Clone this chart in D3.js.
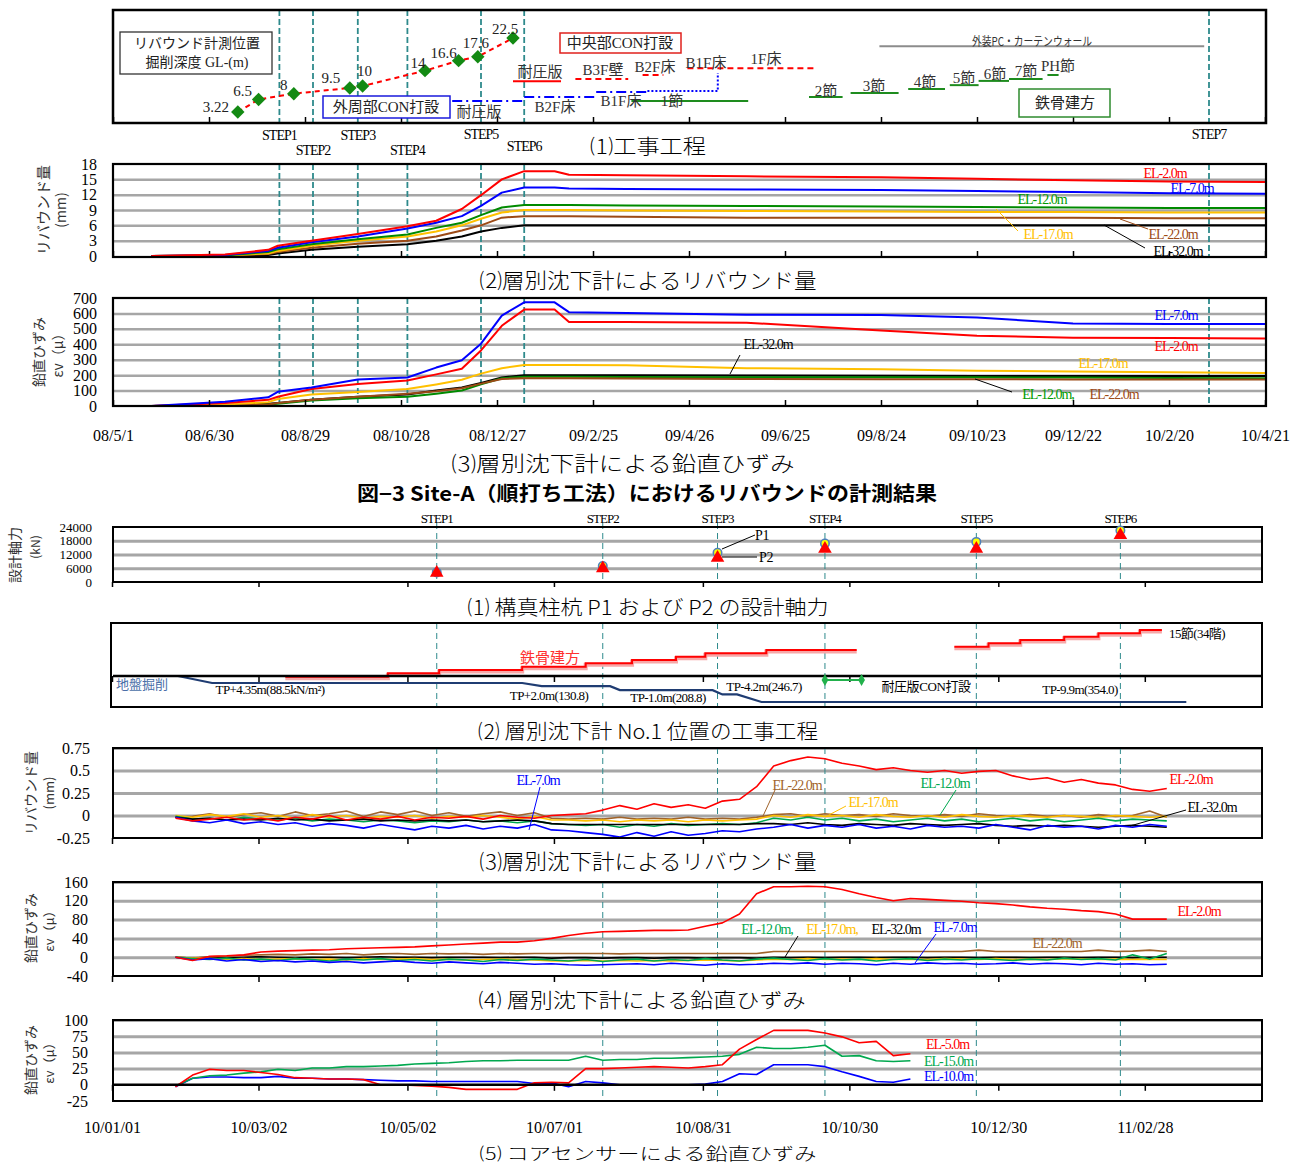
<!DOCTYPE html>
<html lang="ja">
<head>
<meta charset="UTF-8">
<title>図-3 リバウンドの計測結果</title>
<script src="https://cdn.jsdelivr.net/npm/d3@7"></script>
<style>
  body { margin: 0; background: #fff; }
</style>
</head>
<body>
<svg id="fig" width="1299" height="1167"></svg>
<script>
const SERIF = "'Liberation Serif','Noto Sans CJK JP',serif";
const GOTH = "'Noto Sans CJK JP',sans-serif";
const pd = d3.timeParse("%Y-%m-%d");

// ---------------- Site-A (upper figure) ----------------
const topTickDates = ["2008-05-01","2008-06-30","2008-08-29","2008-10-28","2008-12-27","2009-02-25","2009-04-26","2009-06-25","2009-08-24","2009-10-23","2009-12-22","2010-02-20","2010-04-21"];
const topTickLabels = ["08/5/1","08/6/30","08/8/29","08/10/28","08/12/27","09/2/25","09/4/26","09/6/25","09/8/24","09/10/23","09/12/22","10/2/20","10/4/21"];
const topSteps = ["2008-08-13","2008-09-03","2008-10-01","2008-11-01","2008-12-17","2009-01-13","2010-03-17"];
const stepNames = ["STEP1","STEP2","STEP3","STEP4","STEP5","STEP6","STEP7"];

// excavation depth at rebound measuring position, GL-(m)
const depthDates = ["2008-07-18","2008-07-31","2008-08-22","2008-09-26","2008-10-04","2008-11-12","2008-12-03","2008-12-15","2009-01-06"];
const depths = [3.22, 6.5, 8, 9.5, 10, 14, 16.6, 17.6, 22.5];

// construction schedule (row = lane in the schedule box)
const cenNames = ["耐圧版","B3F壁","B2F床","1F床"];
const cenStart = ["2009-01-06","2009-02-14","2009-03-28","2009-04-25"];
const cenEnd   = ["2009-02-05","2009-03-19","2009-04-10","2009-07-15"];
const cenRow   = [7.4, 7.8, 8.5, 9.7];
const perNames = ["耐圧版","B2F床","B1F床","1F床"];
const perStart = ["2008-11-29","2009-01-13","2009-02-27","2009-03-31"];
const perEnd   = ["2009-01-13","2009-02-26","2009-03-31","2009-05-14"];
const perRow   = [3.9, 4.6, 5.5, 5.65];
const stNames = ["1節","2節","3節","4節","5節","6節","7節","PH節"];
const stStart = ["2009-03-21","2009-07-10","2009-08-05","2009-09-10","2009-10-06","2009-10-24","2009-11-12","2009-12-06"];
const stEnd   = ["2009-06-02","2009-07-31","2009-09-04","2009-10-03","2009-10-24","2009-11-12","2009-12-03","2009-12-13"];
const stRow   = [3.9, 4.6, 5.3, 6.0, 6.7, 7.45, 7.8, 8.5];
const pcSpan = ["2009-08-23","2010-03-14"];
const pcRow = 13.6;

const topDates = ["2008-05-25","2008-07-10","2008-08-06","2008-08-12","2008-09-02","2008-10-01","2008-11-01","2008-11-19","2008-12-05","2008-12-17","2008-12-30","2009-01-13","2009-02-01","2009-02-10","2009-03-18","2009-06-01","2009-08-24","2009-10-23","2009-12-22","2010-02-20","2010-04-21"];
const topNames = ["EL-2.0m","EL-7.0m","EL-12.0m","EL-17.0m","EL-22.0m","EL-32.0m"];
// rebound (mm)
const rbA2  = [0, 0.3, 1.2, 2.0, 3.0, 4.3, 5.8, 6.9, 9.2, 11.9, 15.0, 16.6, 16.6, 15.9, 15.8, 15.6, 15.4, 15.1, 14.8, 14.6, 14.5];
const rbA7  = [0, 0.2, 1.0, 1.6, 2.7, 3.8, 5.4, 6.5, 7.8, 9.8, 12.4, 13.4, 13.4, 13.2, 13.1, 13.0, 12.9, 12.7, 12.5, 12.3, 12.2];
const rbA12 = [0, 0.1, 0.8, 1.3, 2.3, 3.3, 4.2, 5.5, 6.5, 8.0, 9.5, 10.0, 10.0, 10.0, 9.9, 9.8, 9.7, 9.6, 9.5, 9.4, 9.4];
const rbA17 = [0, 0.1, 0.5, 1.0, 2.0, 3.0, 3.8, 4.8, 6.0, 7.3, 8.5, 9.0, 9.0, 9.0, 8.9, 8.8, 8.7, 8.6, 8.6, 8.5, 8.5];
const rbA22 = [0, 0.1, 0.4, 0.8, 1.6, 2.4, 3.0, 3.8, 5.0, 6.0, 7.5, 7.8, 7.8, 7.8, 7.7, 7.5, 7.5, 7.5, 7.5, 7.4, 7.4];
const rbA32 = [0, 0.0, 0.2, 0.5, 1.2, 1.8, 2.3, 3.0, 3.8, 4.8, 5.5, 6.0, 6.0, 6.0, 6.0, 6.0, 6.0, 6.0, 6.0, 6.0, 6.0];
// vertical strain (micro)
const evA2  = [0, 20, 40, 60, 110, 142, 165, 205, 242, 360, 520, 625, 625, 545, 545, 540, 490, 455, 443, 440, 438];
const evA7  = [0, 28, 56, 92, 120, 172, 185, 249, 296, 404, 586, 672, 672, 608, 603, 592, 590, 574, 535, 532, 532];
const evA12 = [0, 3, 10, 15, 35, 50, 60, 80, 100, 140, 180, 190, 190, 190, 188, 187, 187, 186, 184, 182, 180];
const evA17 = [0, 10, 25, 45, 75, 90, 110, 140, 170, 210, 245, 265, 265, 265, 264, 245, 238, 228, 224, 218, 214];
const evA22 = [0, 3, 10, 20, 40, 60, 80, 95, 115, 145, 175, 180, 180, 180, 178, 175, 174, 173, 172, 172, 172];
const evA32 = [0, 5, 15, 20, 40, 60, 75, 100, 120, 150, 185, 200, 200, 200, 200, 198, 196, 195, 195, 195, 195];

// ---------------- Site-B (lower figure) ----------------
const lowTickDates = ["2010-01-01","2010-03-02","2010-05-02","2010-07-01","2010-08-31","2010-10-30","2010-12-30","2011-02-28"];
const lowTickLabels = ["10/01/01","10/03/02","10/05/02","10/07/01","10/08/31","10/10/30","10/12/30","11/02/28"];
const lowSteps = ["2010-05-14","2010-07-21","2010-09-06","2010-10-20","2010-12-21","2011-02-18"];
const p1Force = [4200, 7000, 12800, 16800, 17500, 22500];
const p2Force = [4000, 6000, 10500, 14500, 14500, 20500];

// steel erection nodes 1..15
const nodeStart = ["2010-03-13","2010-04-24","2010-05-15","2010-06-18","2010-07-14","2010-08-02","2010-08-20","2010-09-01","2010-09-26","2010-12-12","2010-12-26","2011-01-08","2011-01-26","2011-02-09","2011-02-26"];
const nodeEnd   = ["2010-04-24","2010-05-15","2010-06-18","2010-07-14","2010-08-02","2010-08-20","2010-09-01","2010-09-26","2010-11-02","2010-12-26","2011-01-08","2011-01-26","2011-02-09","2011-02-26","2011-03-07"];
// excavation level (TP m)
const excDates = ["2010-01-28","2010-02-11","2010-06-18","2010-06-26","2010-07-24","2010-07-28","2010-09-04","2010-09-08","2010-09-14","2010-09-24","2011-03-17"];
const excTP    = [9.6, 4.35, 4.35, 2.0, 2.0, -1.0, -1.0, -4.2, -4.2, -9.9, -9.9];
const matSpan = ["2010-10-20","2010-11-04"];
const matTP = 6.6;

const wk = ["2010-01-27","2010-02-03","2010-02-10","2010-02-17","2010-02-24","2010-03-03","2010-03-10","2010-03-17","2010-03-24","2010-03-31",
  "2010-04-07","2010-04-14","2010-04-21","2010-04-28","2010-05-05","2010-05-12","2010-05-19","2010-05-26","2010-06-02","2010-06-09",
  "2010-06-16","2010-06-23","2010-06-30","2010-07-07","2010-07-14","2010-07-21","2010-07-28","2010-08-04","2010-08-11","2010-08-18",
  "2010-08-25","2010-09-01","2010-09-08","2010-09-15","2010-09-22","2010-09-29","2010-10-06","2010-10-13","2010-10-20","2010-10-27",
  "2010-11-03","2010-11-10","2010-11-17","2010-11-24","2010-12-01","2010-12-08","2010-12-15","2010-12-22","2010-12-29","2011-01-05",
  "2011-01-12","2011-01-19","2011-01-26","2011-02-02","2011-02-09","2011-02-16","2011-02-23","2011-03-02","2011-03-09"];

// rebound (mm)
const rbB2 = [-0.03,-0.06,-0.04,-0.02,-0.05,-0.03,-0.06,-0.02,-0.04,0.00,
  -0.05,-0.02,-0.04,-0.01,-0.05,-0.02,-0.03,-0.01,-0.04,0.00,
  -0.02,-0.03,0.00,0.01,0.02,0.06,0.11,0.07,0.13,0.09,
  0.12,0.08,0.16,0.18,0.32,0.55,0.61,0.65,0.63,0.58,
  0.55,0.51,0.53,0.50,0.48,0.50,0.47,0.49,0.50,0.44,
  0.40,0.42,0.37,0.40,0.36,0.34,0.29,0.27,0.30];
const rbB7 = [-0.02,-0.06,-0.08,-0.05,-0.09,-0.07,-0.10,-0.08,-0.12,-0.09,
  -0.11,-0.14,-0.10,-0.13,-0.16,-0.12,-0.14,-0.11,-0.15,-0.12,
  -0.14,-0.10,-0.16,-0.17,-0.19,-0.21,-0.24,-0.19,-0.23,-0.18,
  -0.22,-0.20,-0.17,-0.18,-0.15,-0.13,-0.10,-0.14,-0.11,-0.13,
  -0.10,-0.14,-0.12,-0.15,-0.11,-0.13,-0.12,-0.14,-0.10,-0.13,
  -0.16,-0.11,-0.13,-0.12,-0.15,-0.11,-0.13,-0.10,-0.12];
const rbB12 = [-0.01,-0.04,-0.03,-0.05,-0.02,-0.04,-0.05,-0.03,-0.06,-0.04,
  -0.05,-0.07,-0.05,-0.06,-0.08,-0.06,-0.07,-0.05,-0.07,-0.06,
  -0.08,-0.06,-0.09,-0.10,-0.11,-0.10,-0.13,-0.10,-0.12,-0.09,
  -0.11,-0.10,-0.09,-0.10,-0.08,-0.03,-0.05,-0.02,-0.05,-0.03,
  -0.06,-0.04,-0.07,-0.05,-0.03,-0.06,-0.04,-0.07,-0.05,-0.03,
  -0.06,-0.04,-0.07,-0.05,-0.03,-0.06,-0.04,-0.05,-0.06];
const rbB17 = [0.00,-0.02,0.01,-0.01,0.02,-0.02,0.00,-0.03,0.01,-0.02,
  0.00,-0.03,-0.01,-0.02,0.00,-0.03,-0.01,-0.02,0.00,-0.02,
  -0.04,-0.01,-0.05,-0.05,-0.06,-0.05,-0.07,-0.05,-0.06,-0.05,
  -0.07,-0.05,-0.06,-0.05,-0.04,0.00,-0.02,0.01,-0.01,0.00,
  -0.02,0.01,-0.01,-0.02,0.00,-0.02,0.01,-0.01,-0.02,0.00,
  -0.01,-0.02,0.00,-0.01,-0.02,0.00,-0.01,-0.02,-0.01];
const rbB22 = [-0.02,-0.01,0.02,-0.02,0.01,0.03,-0.01,0.04,0.00,0.02,
  0.05,-0.01,0.04,0.01,0.05,0.00,0.03,-0.01,0.02,0.04,
  0.00,0.03,-0.03,-0.04,-0.03,-0.04,-0.02,-0.04,-0.03,-0.04,
  -0.02,-0.04,-0.03,-0.04,-0.02,0.01,0.02,-0.01,0.02,0.00,
  0.01,-0.01,0.02,0.00,-0.01,0.01,-0.01,0.02,0.00,-0.01,
  0.01,-0.01,0.00,-0.02,0.01,-0.01,0.00,0.05,-0.02];
const rbB32 = [-0.02,-0.04,-0.03,-0.05,-0.04,-0.05,-0.03,-0.05,-0.04,-0.06,
  -0.05,-0.04,-0.06,-0.05,-0.06,-0.05,-0.06,-0.05,-0.07,-0.06,
  -0.05,-0.06,-0.09,-0.10,-0.10,-0.10,-0.10,-0.10,-0.10,-0.10,
  -0.10,-0.10,-0.10,-0.10,-0.09,-0.09,-0.10,-0.08,-0.10,-0.11,
  -0.09,-0.10,-0.11,-0.09,-0.10,-0.11,-0.10,-0.09,-0.11,-0.12,
  -0.11,-0.12,-0.11,-0.12,-0.13,-0.12,-0.11,-0.12,-0.13];

// vertical strain by settlement gauge (micro)
const evB2 = [0,-7,2,3,5,11,13,14,15,16, 18,19,20,21,22,24,26,28,30,32,
  32,35,40,46,51,54,55,56,57,57, 58,66,73,92,135,150,150,151,150,144,
  135,127,120,125,123,121,119,116,114,111, 107,104,102,99,97,92,81,81,81];
const evB7 = [0,-6,-3,-8,-5,-9,-7,-10,-8,-11, -9,-12,-10,-8,-11,-13,-10,-12,-14,-11,
  -13,-15,-14,-16,-17,-16,-15,-14,-16,-13, -15,-17,-14,-16,-15,-13,-14,-12,-15,-13,
  -14,-16,-13,-15,-12,-14,-13,-15,-14,-12, -15,-13,-14,-16,-13,-15,-14,-16,-15];
const evB12 = [0,-3,-5,-2,-6,-4,-7,-3,-5,-8, -4,-6,-3,-7,-5,-8,-4,-6,-9,-5,
  -7,-4,-6,-8,-5,-9,-6,-4,-8,-5, -7,-3,-6,-8,-4,-2,-5,-7,-3,-6,
  -4,-8,-5,-3,-7,-4,-6,-3,-5,-7, -4,-6,-2,-5,-3,-6,5,-4,8];
const evB17 = [0,-2,-3,-4,-3,-5,-4,-3,-5,-4, -6,-3,-5,-4,-3,-5,-4,-6,-5,-4,
  -5,-6,-8,-8,-7,-8,-7,-8,-7,-8, -7,-6,-7,-8,-6,-4,-5,-3,-5,-4,
  -5,-3,-5,-4,-5,-3,-4,-5,-3,-5, -4,-5,-3,-4,-5,-4,-5,-4,-5];
const evB22 = [0,-2,1,2,4,5,6,5,7,6, 8,5,7,8,6,8,7,8,6,8,
  7,8,8,8,8,8,7,8,8,8, 8,8,8,8,8,12,12,12,12,12,
  12,12,12,12,12,12,12,15,12,12, 12,12,12,12,15,12,13,15,12];
const evB32 = [0,-2,0,-1,0,1,0,-1,0,0, -1,0,1,0,0,-1,0,0,0,-1,
  0,0,-2,-1,-1,-2,-1,-1,-2,-1, -1,-2,-1,-1,-2,0,-1,0,-1,0,
  0,-1,0,0,-1,0,0,-1,0,0, -1,0,0,-1,0,0,-1,0,0];

// core sensor vertical strain (micro), weeks 0..43
const csNames = ["EL-5.0m","EL-15.0m","EL-10.0m"];
const cs5  = [-3,15,24,22,22,19,16,11,10,9, 9,8,0,0,-1,-2,-4,-7,-7,-7,
  -7,3,4,3,25,25,26,27,28,27, 26,28,31,55,70,84,84,84,80,74, 65,67,45,48];
const cs15 = [-2,10,14,15,18,20,24,22,26,26, 28,28,29,30,32,33,34,36,37,37,
  38,38,38,38,44,38,39,39,41,41, 42,43,44,47,58,56,56,58,61,44, 45,37,36,37];
const cs10 = [-3,10,12,12,11,11,13,10,10,9, 9,8,7,6,6,5,5,5,5,5,
  5,2,3,-3,5,3,0,0,0,0, 0,1,5,17,16,31,31,31,28,20, 13,5,4,9];

// ---------------- drawing helpers ----------------
const svg = d3.select("#fig");
svg.append("rect").attr("width", 1299).attr("height", 1167).attr("fill", "#fff");

function T(x, y, s, o = {}) {
  const t = svg.append("text")
    .attr("x", x).attr("y", y)
    .attr("text-anchor", o.a || "middle")
    .attr("dominant-baseline", "central")
    .style("font-family", o.f || SERIF)
    .style("font-size", (o.s || 14) + "px")
    .style("font-weight", o.w || 400)
    .style("letter-spacing", (o.ls || 0) + "px")
    .attr("fill", o.c || "#000")
    .text(s);
  if (o.len) t.attr("textLength", o.len).attr("lengthAdjust", "spacingAndGlyphs");
  if (o.rot) t.attr("transform", `rotate(${o.rot},${x},${y})`);
  return t;
}
function seg(x1, y1, x2, y2, c, w, dash) {
  const l = svg.append("line").attr("x1", x1).attr("y1", y1).attr("x2", x2).attr("y2", y2)
    .attr("stroke", c).attr("stroke-width", w || 1);
  if (dash) l.attr("stroke-dasharray", dash);
  return l;
}
function frame(x0, y0, x1, y1, w) {
  svg.append("rect").attr("x", x0).attr("y", y0).attr("width", x1 - x0).attr("height", y1 - y0)
    .attr("fill", "none").attr("stroke", "#000").attr("stroke-width", w || 2);
}
function grid(y, vals, x0, x1, w) {
  const g = svg.append("g").attr("transform", `translate(${x0},0)`)
    .call(d3.axisLeft(y).tickValues(vals).tickSize(-(x1 - x0)).tickFormat(""));
  g.select(".domain").remove();
  g.selectAll("line").attr("stroke", "#a6a6a6").attr("stroke-width", w || 2.5);
}
function yAxis(y, vals, xr, fmt, size) {
  const g = svg.append("g").attr("transform", `translate(${xr},0)`)
    .call(d3.axisLeft(y).tickValues(vals).tickSize(0).tickPadding(0).tickFormat(fmt));
  g.select(".domain").remove();
  g.selectAll("text").style("font-family", SERIF).style("font-size", size + "px").attr("fill", "#000");
}
function xTicks(x, dates, yPos, size, labels, pad, fsize) {
  const ax = d3.axisBottom(x).tickValues(dates.map(pd)).tickSize(size).tickSizeOuter(0)
    .tickPadding(pad || 3).tickFormat(labels ? (d, i) => labels[i] : "");
  const g = svg.append("g").attr("transform", `translate(0,${yPos})`).call(ax);
  g.select(".domain").remove();
  g.selectAll("line").attr("stroke", "#000").attr("stroke-width", 1.5);
  g.selectAll("text").style("font-family", SERIF).style("font-size", (fsize || 16) + "px").attr("fill", "#000");
}
function steps(x, dates, y0, y1, c, w, dash) {
  svg.append("g").selectAll("line").data(dates).join("line")
    .attr("x1", d => x(pd(d))).attr("x2", d => x(pd(d)))
    .attr("y1", y0).attr("y2", y1)
    .attr("stroke", c).attr("stroke-width", w).attr("stroke-dasharray", dash);
}
function series(x, y, dates, vals, color, w) {
  const line = d3.line().x((d, i) => x(pd(dates[i]))).y(d => y(d));
  svg.append("path").datum(vals).attr("d", line)
    .attr("fill", "none").attr("stroke", color).attr("stroke-width", w || 2)
    .attr("stroke-linejoin", "round");
}
function vlabel(x, y, s, size) {
  T(x, y, s, { f: GOTH, s: size || 14, rot: -90, c: "#333" });
}

const cRed = "#ff0000", cBlue = "#0000ff", cGreen = "#008a00", cYel = "#ffc000", cBrown = "#9c4a16", cBlack = "#000";
const cGreenB = "#00a84f", cBrownB = "#a0632a";
const teal = "#2e8a8c";

const topX = d3.scaleTime().domain([pd("2008-05-01"), pd("2010-04-21")]).range([113, 1265]);
const lowX = d3.scaleTime().domain([pd("2010-01-01"), pd("2011-04-17")]).range([112, 1262]);
const TL = 113, TR = 1266, LL = 113, LR = 1262;

// =========== (1) 工事工程 ===========
const rowY = d3.scaleLinear().domain([0, 20]).range([123, 10]);
const depthY = d3.scaleLinear().domain([0, 25]).range([124.4, 28.4]);

steps(topX, topSteps, 10, 123, teal, 1.8, "6,3");
xTicks(topX, topTickDates, 123, -6);

// gray exterior PC line
seg(topX(pd(pcSpan[0])), rowY(pcRow), topX(pd(pcSpan[1])), rowY(pcRow), "#8c8c8c", 2);
T(1032, 40, "外装PC・カーテンウォール", { f: GOTH, s: 12, len: 120, c: "#333" });

// central part concrete (red)
cenNames.forEach((n, i) => {
  seg(topX(pd(cenStart[i])), rowY(cenRow[i]), topX(pd(cenEnd[i])), rowY(cenRow[i]), cRed, 2, i === 0 ? null : "6,4");
});
// perimeter part concrete (blue)
perNames.forEach((n, i) => {
  const xa = topX(pd(perStart[i])), xb = topX(pd(perEnd[i])), yy = rowY(perRow[i]);
  if (i < 3) seg(xa, yy, xb, yy, cBlue, 2, "10,4,2,4");
  else {
    svg.append("path").attr("d", `M${xa},${yy}H${xb}V${rowY(8.85)}`)
      .attr("fill", "none").attr("stroke", cBlue).attr("stroke-width", 2).attr("stroke-dasharray", "2,2");
  }
});
// steel nodes (green)
stNames.forEach((n, i) => {
  seg(topX(pd(stStart[i])), rowY(stRow[i]), topX(pd(stEnd[i])), rowY(stRow[i]), "#1e8c1e", 2);
});

const schedLbl = [
  ["耐圧版", 540, 72], ["B3F壁", 603, 70], ["B2F床", 655, 67], ["B1F床", 706, 63], ["1F床", 766, 59],
  ["耐圧版", 479, 112], ["B2F床", 555, 107], ["B1F床", 621, 101], ["1節", 672, 101],
  ["2節", 826, 91], ["3節", 874, 86], ["4節", 925, 82], ["5節", 964, 78], ["6節", 995, 74], ["7節", 1026, 71], ["PH節", 1058, 66]
];
schedLbl.forEach(l => T(l[1], l[2], l[0], { s: 15, c: "#333" }));

// label boxes
svg.append("rect").attr("x", 120).attr("y", 32).attr("width", 152).attr("height", 42).attr("fill", "#fff").attr("stroke", "#333").attr("stroke-width", 1.3);
T(197, 43, "リバウンド計測位置", { s: 14, c: "#222" });
T(197, 62, "掘削深度 GL-(m)", { s: 14, c: "#222" });
svg.append("rect").attr("x", 560).attr("y", 33).attr("width", 121).attr("height", 20).attr("fill", "#fff").attr("stroke", "#e0201c").attr("stroke-width", 1.5);
T(620, 43, "中央部CON打設", { s: 15, c: "#222" });
svg.append("rect").attr("x", 323).attr("y", 96).attr("width", 127).attr("height", 22).attr("fill", "#fff").attr("stroke", "#1a1adc").attr("stroke-width", 1.5);
T(386, 107, "外周部CON打設", { s: 15, c: "#222" });
svg.append("rect").attr("x", 1019).attr("y", 89).attr("width", 91).attr("height", 28).attr("fill", "#fff").attr("stroke", "#2e8b2e").attr("stroke-width", 1.5);
T(1065, 103, "鉄骨建方", { s: 15, c: "#222" });

// excavation depth markers
const depthLine = d3.line().x((d, i) => topX(pd(depthDates[i]))).y(d => depthY(d));
svg.append("path").datum(depths).attr("d", depthLine).attr("fill", "none")
  .attr("stroke", cRed).attr("stroke-width", 2).attr("stroke-dasharray", "5,4");
svg.append("g").selectAll("path").data(depths).join("path")
  .attr("d", d3.symbol(d3.symbolSquare, 90))
  .attr("transform", (d, i) => `translate(${topX(pd(depthDates[i]))},${depthY(d)}) rotate(45)`)
  .attr("fill", "#138a13");
const depthOff = [[-22, -5], [-16, -8], [-10, -9], [-19, -10], [2, -15], [-7, -8], [-15, -8], [-2, -14], [-8, -9]];
depths.forEach((d, i) => T(topX(pd(depthDates[i])) + depthOff[i][0], depthY(d) + depthOff[i][1], String(d), { s: 15, c: "#222" }));

frame(TL, 10, TR, 123, 2.5);
const stepLblY = [135, 150, 135, 150, 134, 146, 134];
topSteps.forEach((d, i) => T(topX(pd(d)), stepLblY[i], stepNames[i], { s: 14, ls: -1 }));
T(648, 145, "⑴工事工程", { f: GOTH, s: 20, w: 300, len: 116 });

// =========== (2) リバウンド量 ===========
const rbY = d3.scaleLinear().domain([0, 18]).range([256, 164]);
grid(rbY, [3, 6, 9, 12, 15], TL, TR, 2.5);
steps(topX, topSteps, 164, 257, teal, 1.8, "6,3");
xTicks(topX, topTickDates, 257, -6);
[rbA32, rbA22, rbA17, rbA12, rbA7, rbA2].forEach((v, i) =>
  series(topX, rbY, topDates, v, [cBlack, cBrown, cYel, cGreen, cBlue, cRed][i], 2));
frame(TL, 164, TR, 257, 2.2);
yAxis(rbY, [0, 3, 6, 9, 12, 15, 18], 97, d => d, 16);
vlabel(42, 210, "リバウンド量", 15);
vlabel(60, 210, "(mm)", 14);
T(1165, 173, "EL-2.0m", { c: cRed, ls: -1 });
T(1192, 188, "EL-7.0m", { c: cBlue, ls: -1 });
T(1042, 199, "EL-12.0m", { c: "#009a00", ls: -1 });
T(1048, 234, "EL-17.0m", { c: cYel, ls: -1 });
seg(996, 209, 1018, 231, cYel, 1);
T(1173, 234, "EL-22.0m", { c: cBrown, ls: -1 });
seg(1120, 219, 1148, 229, cBrown, 1);
T(1178, 251, "EL-32.0m", { c: "#000", ls: -1 });
seg(1104, 225, 1145, 248, "#000", 1);
T(648, 279, "⑵層別沈下計によるリバウンド量", { f: GOTH, s: 21, w: 300, len: 337 });

// =========== (3) 鉛直ひずみ ===========
const evY = d3.scaleLinear().domain([0, 700]).range([406, 298]);
grid(evY, [100, 200, 300, 400, 500, 600], TL, TR, 2.5);
steps(topX, topSteps, 298, 406, teal, 1.8, "6,3");
[evA32, evA12, evA22, evA17, evA2, evA7].forEach((v, i) =>
  series(topX, evY, topDates, v, [cBlack, cGreen, cBrown, cYel, cRed, cBlue][i], 2));
frame(TL, 298, TR, 406, 2.2);
xTicks(topX, topTickDates, 406, -6, topTickLabels, 24, 16);
yAxis(evY, [0, 100, 200, 300, 400, 500, 600, 700], 97, d => d, 16);
vlabel(38, 352, "鉛直ひずみ", 14);
vlabel(57, 352, "εv（μ）", 14);
T(1176, 315, "EL-7.0m", { c: cBlue, ls: -1 });
T(1176, 346, "EL-2.0m", { c: cRed, ls: -1 });
T(1103, 363, "EL-17.0m", { c: cYel, ls: -1 });
T(768, 344, "EL-32.0m", { c: "#000", ls: -1 });
seg(740, 355, 730, 374, "#000", 1);
T(1048, 394, "EL-12.0m,", { c: "#009a00", ls: -1 });
T(1114, 394, "EL-22.0m", { c: cBrown, ls: -1 });
seg(975, 379, 1012, 392, "#000", 1);
T(623, 462, "⑶層別沈下計による鉛直ひずみ", { f: GOTH, s: 21, w: 300, len: 343 });
T(647, 492, "図−3 Site-A（順打ち工法）におけるリバウンドの計測結果", { f: GOTH, s: 20, w: 700, len: 580 });

// =========== lower (1) 設計軸力 ===========
const fY = d3.scaleLinear().domain([0, 24000]).range([582, 527]);
grid(fY, [6000, 12000, 18000], LL, LR, 3);
steps(lowX, lowSteps, 523, 582, teal, 1, "6,4");
lowSteps.forEach((d, i) => T(lowX(pd(d)), 518, stepNames[i], { s: 13, ls: -1 }));
frame(LL, 527, LR, 582, 2);
xTicks(lowX, lowTickDates, 582, 5);
yAxis(fY, [0, 6000, 12000, 18000, 24000], 92, d => d, 13);
vlabel(14, 555, "設計軸力", 14);
vlabel(34, 547, "(kN)", 12);
svg.append("g").selectAll("circle").data(p1Force).join("circle")
  .attr("cx", (d, i) => lowX(pd(lowSteps[i]))).attr("cy", d => fY(d)).attr("r", 4.2)
  .attr("fill", "#ffff00").attr("stroke", "#4f81bd").attr("stroke-width", 1.6);
svg.append("g").selectAll("path").data(p2Force).join("path")
  .attr("d", d3.symbol(d3.symbolTriangle, 80))
  .attr("transform", (d, i) => `translate(${lowX(pd(lowSteps[i]))},${fY(d)})`)
  .attr("fill", "#ff0000");
seg(722, 549, 755, 535, "#000", 1);
T(762, 535, "P1", { s: 14, ls: -0.5 });
seg(722, 557, 757, 557, "#000", 1);
T(766, 557, "P2", { s: 14, ls: -0.5 });
T(648, 606, "⑴ 構真柱杭 P1 および P2 の設計軸力", { f: GOTH, s: 20, w: 300, len: 361 });

// =========== lower (2) 工事工程 ===========
const nodeY = d3.scaleLinear().domain([0, 15]).range([680, 630]);
const tpY = d3.scaleLinear().domain([4.35, -9.9]).range([683, 702]);
steps(lowX, lowSteps, 623, 707, teal, 1, "6,4");
const steelPts = [];
nodeStart.forEach((s, i) => {
  if (i > 0 && nodeStart[i] !== nodeEnd[i - 1]) steelPts.push(null);
  steelPts.push([s, i + 1], [nodeEnd[i], i + 1]);
});
const steelLine = d3.line().defined(d => d !== null).x(d => lowX(pd(d[0]))).y(d => nodeY(d[1]));
svg.append("path").datum(steelPts).attr("d", steelLine).attr("fill", "none")
  .attr("stroke", "#f7a8a8").attr("stroke-width", 4).attr("transform", "translate(0,1.5)");
svg.append("path").datum(steelPts).attr("d", steelLine).attr("fill", "none")
  .attr("stroke", "#ff0000").attr("stroke-width", 2);
const excLine = d3.line().x((d, i) => lowX(pd(excDates[i]))).y(d => d > 4.35 ? 676 : tpY(d));
svg.append("path").datum(excTP).attr("d", excLine).attr("fill", "none")
  .attr("stroke", "#1f3c72").attr("stroke-width", 2.2);
seg(LL, 676, LR, 676, "#000", 2.5);
xTicks(lowX, lowTickDates, 676, 6);
const mx0 = lowX(pd(matSpan[0])), mx1 = lowX(pd(matSpan[1]));
seg(mx0, tpY(matTP), mx1, tpY(matTP), "#22b14c", 2);
svg.append("g").selectAll("path").data(matSpan).join("path")
  .attr("d", d3.symbol(d3.symbolDiamond, 40))
  .attr("transform", d => `translate(${lowX(pd(d))},${tpY(matTP)})`).attr("fill", "#22b14c");
frame(LL - 2, 623, LR, 707, 2);
T(116, 684, "地盤掘削", { a: "start", s: 13, c: "#4a6fa8" });
T(270, 689, "TP+4.35m(88.5kN/m²)", { s: 13, ls: -0.6 });
T(549, 695, "TP+2.0m(130.8)", { s: 13, ls: -0.6 });
T(668, 697, "TP-1.0m(208.8)", { s: 13, ls: -0.6 });
T(764, 686, "TP-4.2m(246.7)", { s: 13, ls: -0.6 });
T(926, 686, "耐圧版CON打設", { s: 13, ls: -0.4 });
T(1080, 689, "TP-9.9m(354.0)", { s: 13, ls: -0.6 });
T(550, 658, "鉄骨建方", { s: 15, c: "#ff3030" });
T(1197, 633, "15節(34階)", { s: 13, ls: -0.6 });
T(648, 730, "⑵ 層別沈下計 No.1 位置の工事工程", { f: GOTH, s: 20, w: 300, len: 340 });

// =========== lower (3) リバウンド量 ===========
const rbBY = d3.scaleLinear().domain([-0.25, 0.75]).range([838, 748]);
grid(rbBY, [0, 0.25, 0.5, 0.75], LL, LR, 3);
steps(lowX, lowSteps, 748, 838, teal, 1, "6,4");
[rbB22, rbB17, rbB12, rbB32, rbB7, rbB2].forEach((v, i) =>
  series(lowX, rbBY, wk, v, [cBrownB, cYel, cGreenB, cBlack, cBlue, cRed][i], 1.6));
frame(LL, 748, LR, 838, 2);
xTicks(lowX, lowTickDates, 838, 6);
yAxis(rbBY, [-0.25, 0, 0.25, 0.5, 0.75], 90, d => d, 16);
vlabel(30, 793, "リバウンド量", 14);
vlabel(48, 793, "(mm)", 13);
T(538, 780, "EL-7.0m", { c: cBlue, ls: -1 });
seg(540, 787, 529, 830, cBlue, 1);
T(797, 785, "EL-22.0m", { c: cBrownB, ls: -1 });
seg(775, 790, 763, 816, cBrownB, 1);
T(945, 783, "EL-12.0m", { c: cGreenB, ls: -1 });
seg(956, 790, 940, 815, cGreenB, 1);
T(873, 802, "EL-17.0m", { c: cYel, ls: -1 });
seg(846, 806, 825, 817, cYel, 1);
T(1191, 779, "EL-2.0m", { c: cRed, ls: -1 });
T(1212, 807, "EL-32.0m", { c: "#000", ls: -1 });
seg(1186, 810, 1130, 826, "#000", 1);
T(648, 860, "⑶層別沈下計によるリバウンド量", { f: GOTH, s: 21, w: 300, len: 337 });

// =========== lower (4) 鉛直ひずみ ===========
const evBY = d3.scaleLinear().domain([-40, 160]).range([976, 882]);
grid(evBY, [0, 40, 80, 120, 160], LL, LR, 3);
steps(lowX, lowSteps, 882, 976, teal, 1, "6,4");
[evB32, evB22, evB17, evB12, evB7, evB2].forEach((v, i) =>
  series(lowX, evBY, wk, v, [cBlack, cBrownB, cYel, cGreenB, cBlue, cRed][i], 1.6));
frame(LL, 882, LR, 976, 2);
xTicks(lowX, lowTickDates, 976, 6);
yAxis(evBY, [-40, 0, 40, 80, 120, 160], 88, d => d, 16);
vlabel(30, 928, "鉛直ひずみ", 14);
vlabel(48, 928, "εv（μ）", 13);
T(1199, 911, "EL-2.0m", { c: cRed, ls: -1 });
T(767, 929, "EL-12.0m,", { c: cGreenB, ls: -1 });
T(832, 929, "EL-17.0m,", { c: cYel, ls: -1 });
T(896, 929, "EL-32.0m", { c: "#000", ls: -1 });
T(955, 927, "EL-7.0m", { c: cBlue, ls: -1 });
seg(798, 936, 785, 957, "#000", 1);
seg(936, 934, 915, 963, cBlue, 1);
T(1057, 943, "EL-22.0m", { c: cBrownB, ls: -1 });
T(642, 999, "⑷ 層別沈下計による鉛直ひずみ", { f: GOTH, s: 20, w: 300, len: 327 });

// =========== lower (5) コアセンサー ===========
const csY = d3.scaleLinear().domain([-25, 100]).range([1101, 1020]);
grid(csY, [25, 50, 75, 100], LL, LR, 3);
steps(lowX, lowSteps, 1020, 1101, teal, 1, "6,4");
const csWk = wk.slice(0, cs5.length);
[cs10, cs15, cs5].forEach((v, i) => series(lowX, csY, csWk, v, [cBlue, cGreenB, cRed][i], 1.6));
seg(LL, csY(0), LR, csY(0), "#000", 2.5);
frame(LL, 1020, LR, 1101, 2);
xTicks(lowX, lowTickDates, csY(0), 6, lowTickLabels, 31, 16);
yAxis(csY, [-25, 0, 25, 50, 75, 100], 88, d => d, 16);
vlabel(30, 1060, "鉛直ひずみ", 14);
vlabel(48, 1060, "εv（μ）", 13);
T(926, 1044, csNames[0], { a: "start", c: cRed, ls: -1 });
T(924, 1061, csNames[1], { a: "start", c: cGreenB, ls: -1 });
T(924, 1076, csNames[2], { a: "start", c: cBlue, ls: -1 });
T(648, 1152, "⑸ コアセンサーによる鉛直ひずみ", { f: GOTH, s: 17, w: 300, len: 337 });
</script>
</body>
</html>
